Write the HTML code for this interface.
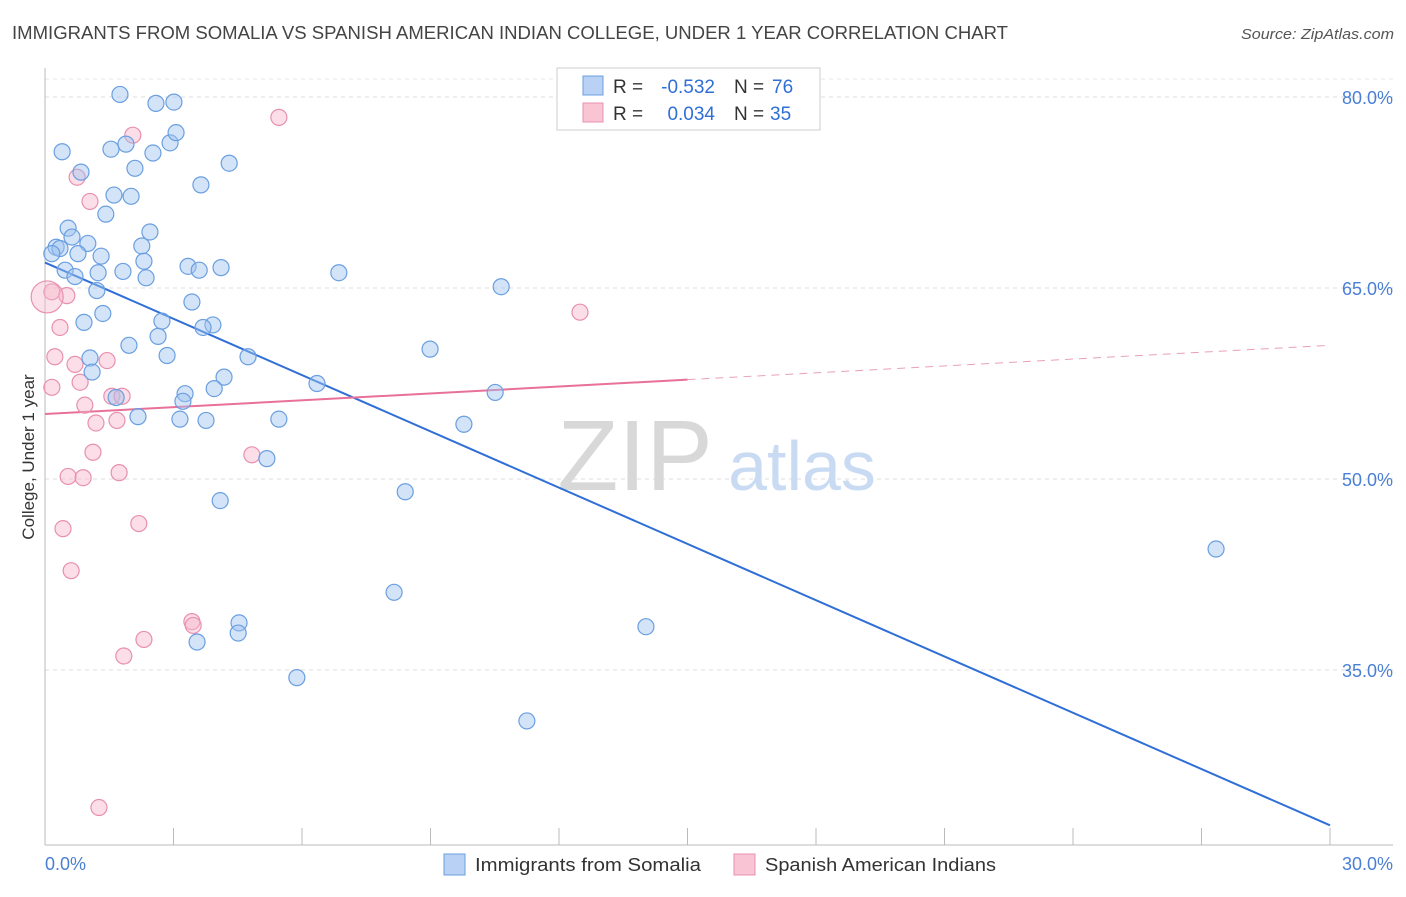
<!DOCTYPE html>
<html><head><meta charset="utf-8"><style>
body{margin:0;background:#fff;font-family:"Liberation Sans",sans-serif}
svg text{font-family:"Liberation Sans",sans-serif}
</style></head><body>
<svg id="chart" width="1406" height="892" xmlns="http://www.w3.org/2000/svg">
<text x="12" y="39" font-size="18" fill="#444" textLength="996" lengthAdjust="spacingAndGlyphs">IMMIGRANTS FROM SOMALIA VS SPANISH AMERICAN INDIAN COLLEGE, UNDER 1 YEAR CORRELATION CHART</text>
<text x="1394" y="39" font-size="15" fill="#555" text-anchor="end" font-style="italic" textLength="153" lengthAdjust="spacingAndGlyphs">Source: ZipAtlas.com</text>
<g id="grid"></g>
<g>
<text x="635" y="490" font-size="100" fill="#d8d8d8" font-family="Liberation Serif" text-anchor="middle">ZIP</text>
<text x="802" y="490" font-size="70" fill="#c9dbf3" text-anchor="middle">atlas</text>
</g>
<line x1="45" y1="845" x2="1393" y2="845" stroke="#bbb"/>
<line x1="45" y1="68" x2="45" y2="845" stroke="#bbb"/>
<g id="ticks"></g>
<g id="trends"></g>
<g id="points"></g>
<text transform="translate(34,457) rotate(-90)" font-size="17" fill="#333" text-anchor="middle">College, Under 1 year</text>
<text x="45" y="870" font-size="18" fill="#4a7fd4">0.0%</text>
<text x="1393" y="870" font-size="18" fill="#4a7fd4" text-anchor="end">30.0%</text>
<g>
<rect x="557" y="68" width="263" height="62" fill="#fff" stroke="#ccc"/>
<rect x="583" y="76" width="20" height="19" fill="#b9d1f5" stroke="#6a9fe0"/>
<rect x="583" y="103" width="20" height="19" fill="#f9c5d5" stroke="#e890b0"/>
<text x="613" y="93" font-size="19" fill="#333">R =</text>
<text x="715" y="93" font-size="19" fill="#2f6fd6" text-anchor="end">-0.532</text>
<text x="734" y="93" font-size="19" fill="#333">N =</text>
<text x="772" y="93" font-size="19" fill="#2f6fd6">76</text>
<text x="613" y="120" font-size="19" fill="#333">R =</text>
<text x="715" y="120" font-size="19" fill="#2f6fd6" text-anchor="end">0.034</text>
<text x="734" y="120" font-size="19" fill="#333">N =</text>
<text x="770" y="120" font-size="19" fill="#2f6fd6">35</text>
</g>
<g>
<rect x="444" y="854" width="21" height="21" fill="#b9d1f5" stroke="#6a9fe0"/>
<text x="475" y="871" font-size="18" fill="#333" textLength="226" lengthAdjust="spacingAndGlyphs">Immigrants from Somalia</text></g>
<g>
<rect x="734" y="854" width="21" height="21" fill="#f9c5d5" stroke="#e890b0"/>
<text x="765" y="871" font-size="18" fill="#333" textLength="231" lengthAdjust="spacingAndGlyphs">Spanish American Indians</text></g>
</svg>
<script>
const yTicks=[80,65,50,35];
const xTickCount=10;
const blueX=[1.75,2.59,3.01,0.40,1.54,1.89,2.52,2.92,3.06,0.84,2.10,3.64,4.30,1.61,2.01,1.42,0.54,2.45,0.63,0.26,0.35,1.00,2.26,0.16,0.77,1.31,2.31,0.47,1.24,1.82,2.36,0.70,3.34,3.60,4.11,6.86,1.21,3.43,10.65,1.35,0.91,2.73,3.92,3.69,2.64,1.96,2.85,4.74,8.99,1.05,1.10,4.18,3.95,6.35,3.27,3.22,1.66,10.51,2.17,3.15,3.76,5.46,9.78,5.18,8.41,4.09,27.34,8.15,4.53,4.51,14.03,3.55,5.88,11.25];
const blueY=[80.2,79.5,79.6,75.7,75.9,76.3,75.6,76.4,77.2,74.1,74.4,73.1,74.8,72.3,72.2,70.8,69.7,69.4,69.0,68.2,68.1,68.5,68.3,67.7,67.7,67.5,67.1,66.4,66.2,66.3,65.8,65.9,66.7,66.4,66.6,66.2,64.8,63.9,65.1,63.0,62.3,62.4,62.1,61.9,61.2,60.5,59.7,59.6,60.2,59.5,58.4,58.0,57.1,57.5,56.7,56.1,56.4,56.8,54.9,54.7,54.6,54.7,54.3,51.6,49.0,48.3,44.5,41.1,38.7,37.9,38.4,37.2,34.4,31.0];
const pinkX=[5.46,2.05,0.75,1.05,0.16,0.51,0.35,12.49,0.23,1.45,0.70,0.82,0.16,1.56,1.80,0.93,1.68,1.19,1.12,4.83,0.54,0.89,1.73,2.19,0.42,0.61,3.43,3.46,2.31,1.84,1.26];
const pinkY=[78.4,77.0,73.7,71.8,64.7,64.4,61.9,63.1,59.6,59.3,59.0,57.6,57.2,56.5,56.5,55.8,54.6,54.4,52.1,51.9,50.2,50.1,50.5,46.5,46.1,42.8,38.8,38.5,37.4,36.1,24.2];
const blueTrend=[67.0,22.8];
const pinkTrend=[55.1,60.5];
const pinkSolidEnd=15;
const NS="http://www.w3.org/2000/svg";
const sx=v=>45+v/30*1285;
const sy=v=>97+(80-v)*191/15;
function mk(tag,attrs,parent){const e=document.createElementNS(NS,tag);for(const k in attrs)e.setAttribute(k,attrs[k]);document.getElementById(parent).appendChild(e);return e;}
yTicks.forEach(t=>{
 const l=mk('line',{x1:45,x2:1393,y1:sy(t),y2:sy(t),stroke:'#ddd','stroke-dasharray':'4,4'},'grid');
 
 
 const tx=mk('text',{x:1393,y:sy(t)+7,'font-size':18,fill:'#4a7fd4','text-anchor':'end'},'grid');
 tx.textContent=t.toFixed(1)+'%';
 
 
});
const topGrid=mk('line',{x1:45,x2:1393,y1:79,y2:79,stroke:'#e4e4e4','stroke-dasharray':'4,4'},'grid');


for(let i=1;i<=xTickCount;i++){
 const x=sx(i*30/xTickCount);
 const l=mk('line',{x1:x,x2:x,y1:828,y2:845,stroke:'#bbb'},'ticks');
 
 
}
const bt=mk('line',{x1:sx(0),y1:sy(blueTrend[0]),x2:sx(30),y2:sy(blueTrend[1]),stroke:'#2f6fd6','stroke-width':2},'trends');


const pm=pinkTrend[0]+(pinkTrend[1]-pinkTrend[0])*pinkSolidEnd/30;
const pt=mk('line',{x1:sx(0),y1:sy(pinkTrend[0]),x2:sx(pinkSolidEnd),y2:sy(pm),stroke:'#e8709a','stroke-width':2},'trends');


const pd=mk('line',{x1:sx(pinkSolidEnd),y1:sy(pm),x2:sx(30),y2:sy(pinkTrend[1]),stroke:'#e8a0b8','stroke-width':1,'stroke-dasharray':'8,6'},'trends');


pinkX.forEach((x,i)=>{
 const c=mk('circle',{cx:sx(x),cy:sy(pinkY[i]),r:8,fill:'rgba(246,182,202,0.45)',stroke:'#e890b0','stroke-width':1.2},'points');
 
 
});
const big=mk('circle',{cx:sx(0.05),cy:sy(64.3),r:16,fill:'rgba(246,182,202,0.4)',stroke:'#e890b0','stroke-width':1.2},'points');


blueX.forEach((x,i)=>{
 const c=mk('circle',{cx:sx(x),cy:sy(blueY[i]),r:8,fill:'rgba(160,195,240,0.45)',stroke:'#6a9fe0','stroke-width':1.2},'points');
 
 
});
</script>
</body></html>
